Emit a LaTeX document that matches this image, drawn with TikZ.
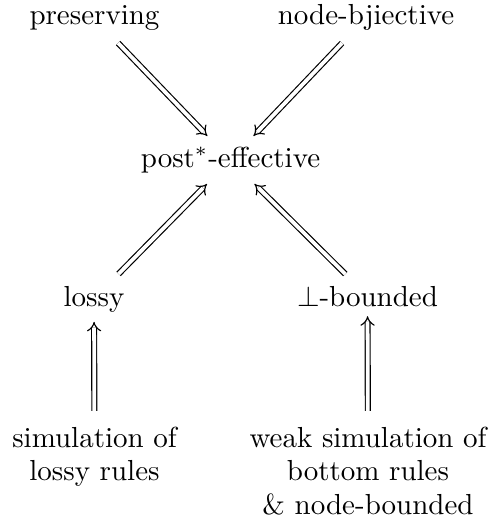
\documentclass[tikz,border=0pt]{standalone}
\usetikzlibrary{arrows.meta}
\begin{document}
\begin{tikzpicture}[x=0.345pt,y=-0.345pt,
  prop/.style={inner sep=0pt,anchor=base},
  multi/.style={inner sep=0pt,anchor=north,align=center},
  imp/.style={double,double distance=1.3pt,-{Implies},shorten <=5.5pt,shorten >=5pt},
  impup/.style={double,double distance=1.3pt,-{Implies},shorten <=5.2pt,shorten >=3.2pt}]
\useasboundingbox (0,0) rectangle (489,515);

% properties
\node[prop] (pres) at (94.5,25) {preserving};
\node[prop] (bij)  at (366,25) {node-bjiective};
\node[prop] (post) at (230.5,167.5) {post$^*$-effective};
\node[prop] (lossy) at (94,306) {lossy};
\node[prop] (bot)  at (367.5,306) {$\perp$-bounded};

% sufficient conditions
\node[multi] (sim)  at (94.5,426) {simulation of\\[-0.35pt]lossy rules};
\node[multi] (wsim) at (368,426) {weak simulation of\\[-0.35pt]bottom rules\\[-0.35pt]\& node-bounded};

% implications
\draw[imp] (pres) -- (post);
\draw[imp] (bij) -- (post);
\draw[imp] (lossy) -- (post);
\draw[imp] (bot) -- (post);
\draw[impup] (sim) -- (lossy);
\draw[impup] (wsim) -- (bot);
\end{tikzpicture}
\end{document}
